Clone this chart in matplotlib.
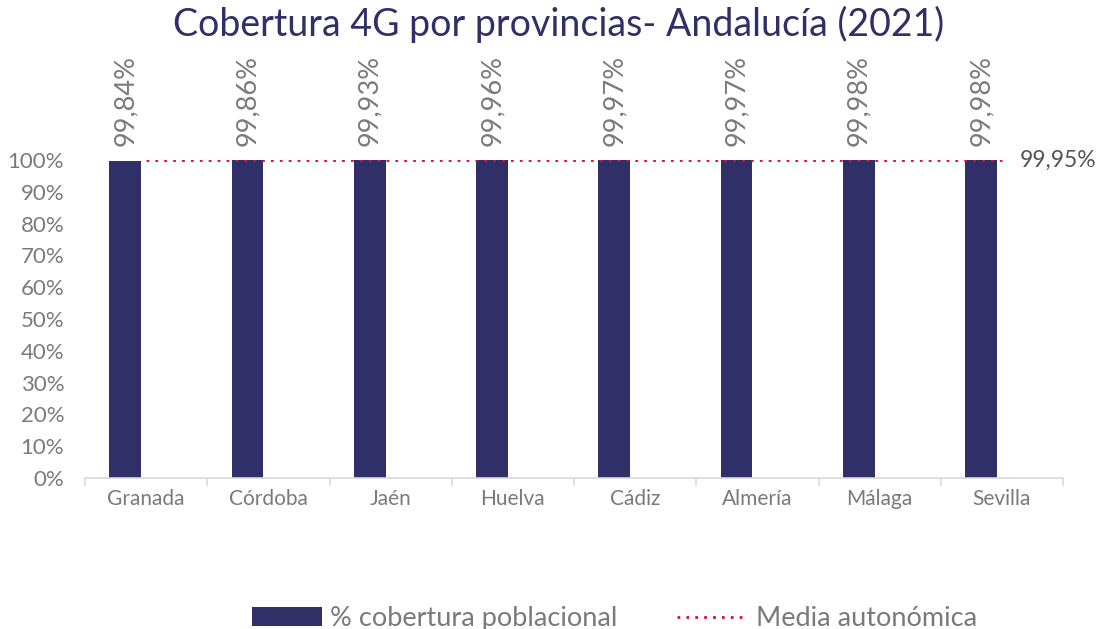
import matplotlib.pyplot as plt
import numpy as np
from matplotlib.ticker import PercentFormatter

provincias = ['Granada', 'Córdoba', 'Jaén', 'Huelva', 'Cádiz', 'Almería', 'Málaga', 'Sevilla']
cobertura = [99.84, 99.86, 99.93, 99.96, 99.97, 99.97, 99.98, 99.98]
media = 99.95

plt.rcParams['font.family'] = ['Lato', 'DejaVu Sans']
navy = '#302F68'
rojo = '#D4123A'
gris = '#7A7A7A'

fig = plt.figure(figsize=(11.01, 6.29), dpi=100)
ax = fig.add_axes([0.0772, 0.240, 0.8883, 0.5056])

x = np.arange(len(provincias))
barras = ax.bar(x - 0.17, cobertura, width=0.26, color=navy, label='% cobertura poblacional', zorder=2)
linea, = ax.plot([x[0], x[-1]], [media, media], color=rojo, linestyle=(0, (1, 2.2)), linewidth=2,
                 label='Media autonómica', zorder=3)

# etiquetas de valor, verticales sobre las barras
for xi, v in zip(x, cobertura):
    ax.text(xi - 0.17, 104.5, '{:.2f}%'.format(v).replace('.', ','), rotation=90,
            ha='center', va='bottom', fontsize=19.5, color=gris)
ax.text(x[-1] + 0.15, media, '{:.2f}%'.format(media).replace('.', ','), ha='left', va='center',
        fontsize=16.5, color='#555555')

ax.set_xlim(-0.5, len(provincias) - 0.5)
ax.set_ylim(0, 100)
ax.set_yticks(np.arange(0, 101, 10))
ax.yaxis.set_major_formatter(PercentFormatter(decimals=0))
ax.set_xticks(x)
ax.set_xticklabels(provincias)
ax.set_xticks(np.arange(-0.5, len(provincias), 1), minor=True)
ax.tick_params(axis='y', length=0, labelsize=16, labelcolor=gris, pad=15)
ax.tick_params(axis='x', which='major', length=0, labelsize=15, labelcolor=gris, pad=8)
ax.tick_params(axis='x', which='minor', length=6, color='#D9D9D9', width=1.2)

for s in ['top', 'right', 'left']:
    ax.spines[s].set_visible(False)
ax.spines['bottom'].set_color('#D9D9D9')
ax.spines['bottom'].set_linewidth(1.2)

fig.suptitle('Cobertura 4G por provincias- Andalucía (2021)', x=0.507, y=0.99, fontsize=27,
             color=navy)

leg = fig.legend([barras, linea], ['% cobertura poblacional', 'Media autonómica'],
                 loc='lower center', bbox_to_anchor=(0.558, -0.042), ncol=2, frameon=False,
                 fontsize=19.5, handlelength=2.6, columnspacing=2.2, handletextpad=0.3)
for t in leg.get_texts():
    t.set_color(gris)

fig.savefig('out.png', dpi=100)
